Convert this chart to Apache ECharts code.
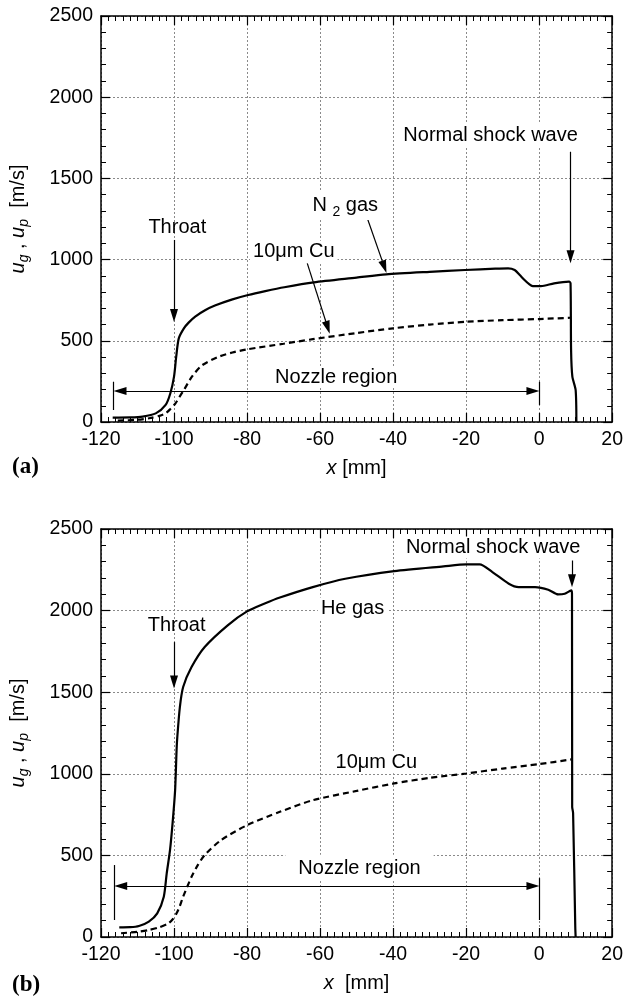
<!DOCTYPE html>
<html><head><meta charset="utf-8">
<script src="https://cdn.jsdelivr.net/npm/echarts@6/dist/echarts.min.js"></script>
<style>html,body{margin:0;padding:0;background:#fff}#c{width:626px;height:996px}</style>
</head><body><div id="c"></div>
<script>
// ---------- data (panel a: N2 gas / 10um Cu) ----------
const n2X = [-116.8, -112, -108.6, -105, -102.3, -101, -100, -99.4, -98.7, -97.3, -96, -94.2, -91.5, -88.8, -84, -79.7, -75, -69.8, -61.7, -50, -41.9, -30, -20.3, -12, -8.5, -6.7, -5.3, -4.0, -2.8, -1.75, 0.5, 4.1, 8.2, 8.6, 8.75, 9.1, 10, 10.2];
const n2Y = [27, 28, 33, 53, 105, 177, 279, 402, 515, 577, 612, 649, 688, 717, 755, 782, 806, 830, 860, 889, 909, 925, 936, 944, 946, 936, 905, 874, 850, 837, 837, 854, 864, 854, 443, 279, 197, 0];
const cuAX = [-115.4, -110, -106.8, -104, -102.3, -101, -99.6, -98.5, -97.3, -95.1, -92.4, -88, -84, -80, -70, -62, -50, -40, -30, -20, -10, 0, 8.6];
const cuAY = [8, 14, 23, 38, 53, 80, 115, 155, 197, 279, 348, 400, 428, 447, 482, 510, 548, 577, 600, 617, 627, 634, 642];
// ---------- data (panel b: He gas / 10um Cu) ----------
const heX = [-115, -112, -109.6, -106.9, -104.6, -102.8, -102, -101.1, -100.4, -99.7, -99.3, -99.1, -98.4, -97.5, -95.2, -91.6, -85.3, -80, -75, -71, -62, -53.1, -39.7, -26.2, -19.9, -16.3, -12.8, -8.3, -5.6, -1.1, 2.5, 5.2, 7.0, 8.8, 9.0, 9.05, 9.3, 9.9, 10];
const heY = [59, 60, 67, 94, 145, 247, 390, 532, 696, 900, 1144, 1226, 1409, 1532, 1654, 1777, 1910, 1995, 2045, 2080, 2144, 2195, 2242, 2271, 2283, 2283, 2236, 2165, 2144, 2144, 2128, 2099, 2103, 2124, 2103, 797, 760, 60, 0];
const cuBX = [-114.5, -110, -106.9, -104, -101.5, -100.3, -99.3, -98.4, -97.5, -95.2, -93.5, -91.6, -87.1, -80, -71, -62, -50, -39.7, -30, -19.9, -10, -0.1, 8.8];
const cuBY = [23, 32, 43, 60, 84, 110, 145, 190, 247, 369, 440, 502, 594, 685, 767, 838, 895, 941, 975, 1002, 1032, 1059, 1088];
// ---------- axes ----------
const xMin = -120, xMax = 20, xStep = 20;
const yMin = 0, yMax = 2500, yStep = 500;

const FONT = "'Liberation Sans', Arial, sans-serif";
const zip = (xs, ys) => xs.map((x, i) => [x, ys[i]]);

const chart = echarts.init(document.getElementById('c'), null, {renderer: 'canvas'});

const grids = [
  {left: 98, top: 16, width: 517, height: 406},
  {left: 98, top: 529, width: 520, height: 408}
];

const axLine = {show: true, onZero: false, lineStyle: {color: '#000', width: 1.5}};
const split = {show: true, lineStyle: {color: '#8a8a8a', type: [2, 2], width: 1}};
const plain = v => String(v);
function xAxes(gi, nameText) {
  const base = {gridIndex: gi, type: 'value', min: xMin, max: xMax, interval: xStep,
    axisLine: axLine,
    axisTick: {show: true, inside: true, length: 9, lineStyle: {color: '#000', width: 1.2}},
    minorTick: {show: true, splitNumber: 10, length: 5, lineStyle: {color: '#000', width: 1}},
    minorSplitLine: {show: false}};
  return [
    Object.assign({}, base, {position: 'bottom',
      axisLabel: {color: '#000', fontSize: 19.5, fontFamily: FONT, margin: 8, formatter: plain},
      splitLine: split,
      name: nameText, nameLocation: 'middle', nameGap: 36,
      nameTextStyle: {color: '#000', fontSize: 20, fontFamily: FONT,
        rich: {i: {fontStyle: 'italic', fontSize: 20, fontFamily: FONT, color: '#000'},
               n: {fontSize: 20, fontFamily: FONT, color: '#000'}}}}),
    Object.assign({}, base, {position: 'top', axisLabel: {show: false}, splitLine: {show: false}})
  ];
}
function yAxes(gi) {
  const base = {gridIndex: gi, type: 'value', min: yMin, max: yMax, interval: yStep,
    axisLine: axLine,
    axisTick: {show: true, inside: true, length: 9, lineStyle: {color: '#000', width: 1.2}},
    minorTick: {show: true, splitNumber: 5, length: 5, lineStyle: {color: '#000', width: 1}},
    minorSplitLine: {show: false}};
  return [
    Object.assign({}, base, {position: 'left',
      axisLabel: {color: '#000', fontSize: 19.5, fontFamily: FONT, margin: 8, formatter: plain},
      splitLine: split,
      name: '{i|u}{s|g}{n| , }{i|u}{s|p}{n|  [m/s]}', nameLocation: 'middle', nameRotate: 90, nameGap: 70,
      nameTextStyle: {color: '#000', fontSize: 20, fontFamily: FONT,
        rich: {i: {fontStyle: 'italic', fontSize: 20, lineHeight: 26, fontFamily: FONT, color: '#000'},
               s: {fontStyle: 'italic', fontSize: 14, lineHeight: 14, verticalAlign: 'bottom', fontFamily: FONT, color: '#000'},
               n: {fontSize: 20, lineHeight: 26, fontFamily: FONT, color: '#000'}}}}),
    Object.assign({}, base, {position: 'right', axisLabel: {show: false}, splitLine: {show: false}})
  ];
}

// ---------- annotations (data coordinates; arrow ends sit at the centre of the head) ----------
const arrowsA = [
  [[-100, 1121], [-100, 656]],
  [[-47.2, 1264], [-42.4, 955]],
  [[-63.5, 977], [-57.9, 582]],
  [[8.6, 1664], [8.6, 1017]]
];
const dblA = [[-114.8, 191], [-1.7, 191]];
const barsA = [[[-116.7, 74], [-116.7, 248]], [[0, 105], [0, 248]]];
const arrowsB = [
  [[-100, 1807], [-100, 1563]],
  [[9.0, 2307], [9.0, 2183]]
];
const dblB = [[-114.6, 312], [-1.7, 312]];
const barsB = [[[-116.5, 104], [-116.5, 441]], [[0, 104], [0, 361]]];

function markLines(arrows, dbl, bars) {
  const data = [];
  arrows.forEach(a => data.push([{coord: a[0], symbol: 'none'}, {coord: a[1], symbol: 'triangle', symbolSize: [8, 13]}]));
  data.push([{coord: dbl[0], symbol: 'triangle', symbolSize: [8, 13]}, {coord: dbl[1], symbol: 'triangle', symbolSize: [8, 13]}]);
  bars.forEach(b => data.push([{coord: b[0], symbol: 'none'}, {coord: b[1], symbol: 'none'}]));
  return {silent: true, animation: false, symbol: ['none', 'none'], label: {show: false},
    lineStyle: {color: '#000', width: 1.2, type: 'solid'}, emphasis: {disabled: true}, data: data};
}

const solid = {color: '#000', width: 2.2};
const dashed = {color: '#000', width: 2.2, type: [6, 4]};
const sm = {smooth: 0.25};

const option = {
  animation: false,
  backgroundColor: '#fff',
  grid: grids,
  xAxis: [].concat(xAxes(0, '{i|x} {n|[mm]}'), xAxes(1, '{i|x}  {n|[mm]}')),
  yAxis: [].concat(yAxes(0), yAxes(1)),
  series: [
    Object.assign({type: 'line', xAxisIndex: 0, yAxisIndex: 0, data: zip(n2X, n2Y), showSymbol: false, lineStyle: solid, silent: true, markLine: markLines(arrowsA, dblA, barsA)}, sm),
    Object.assign({type: 'line', xAxisIndex: 0, yAxisIndex: 0, data: zip(cuAX, cuAY), showSymbol: false, lineStyle: dashed, silent: true}, sm),
    Object.assign({type: 'line', xAxisIndex: 2, yAxisIndex: 2, data: zip(heX, heY), showSymbol: false, lineStyle: solid, silent: true, markLine: markLines(arrowsB, dblB, barsB)}, sm),
    Object.assign({type: 'line', xAxisIndex: 2, yAxisIndex: 2, data: zip(cuBX, cuBY), showSymbol: false, lineStyle: dashed, silent: true}, sm)
  ]
};
chart.setOption(option);

// ---------- text labels ----------
const labels = [
  {g: 0, at: [-99.1, 1195], text: 'Throat', bg: false},
  {g: 0, at: [-53.1, 1336], text: '{n|N }{s|2}{n| gas}', bg: true},
  {g: 0, at: [-67.2, 1049], text: '10\u03bcm Cu', bg: true},
  {g: 0, at: [-13.3, 1767], text: 'Normal shock wave', bg: true},
  {g: 0, at: [-55.6, 277], text: 'Nozzle region', bg: true},
  {g: 1, at: [-99.3, 1909], text: 'Throat', bg: false},
  {g: 1, at: [-51.1, 2013], text: 'He gas', bg: true},
  {g: 1, at: [-12.6, 2387], text: 'Normal shock wave', bg: true},
  {g: 1, at: [-44.6, 1071], text: '10\u03bcm Cu', bg: true},
  {g: 1, at: [-49.2, 428], text: 'Nozzle region', bg: true, wide: true}
];
const rich = {
  n: {fontSize: 20, fontFamily: FONT, lineHeight: 28, fill: '#000'},
  s: {fontSize: 14, fontFamily: FONT, lineHeight: 12, verticalAlign: 'bottom', fill: '#000'}
};
const graphics = labels.map(l => {
  const p = chart.convertToPixel({gridIndex: l.g}, l.at);
  return {type: 'text', x: p[0], y: p[1], z: 100, silent: true,
    style: {text: l.text, fontSize: 20, fontFamily: FONT, fill: '#000', align: 'center', verticalAlign: 'middle',
      rich: rich,
      backgroundColor: l.bg ? '#fff' : 'transparent',
      padding: l.wide ? [4, 13, 1, 13] : [1, 3, 1, 3]}};
});
graphics.push({type: 'text', left: 12, top: 456, z: 100, silent: true,
  style: {text: '(a)', fontSize: 23, fontWeight: 'bold', fontFamily: "'Liberation Serif', 'Times New Roman', serif", fill: '#000'}});
graphics.push({type: 'text', left: 12, top: 974, z: 100, silent: true,
  style: {text: '(b)', fontSize: 23, fontWeight: 'bold', fontFamily: "'Liberation Serif', 'Times New Roman', serif", fill: '#000'}});
chart.setOption({graphic: graphics});
</script>
</body></html>
